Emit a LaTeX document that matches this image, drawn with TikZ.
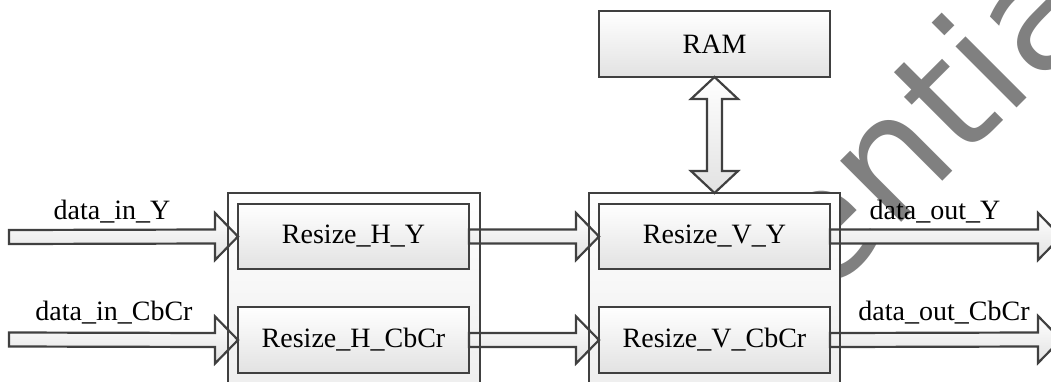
\documentclass[tikz,border=0pt]{standalone}
\usepackage{fontspec}
\setmainfont{Liberation Serif}
\newfontfamily\wmfont{DejaVu Sans}
\usetikzlibrary{calc}
\definecolor{edge}{HTML}{404040}
\definecolor{wmgray}{HTML}{808080}
\definecolor{shadelow}{HTML}{E2E2E2}
\definecolor{framelow}{HTML}{EDEDED}
\tikzset{
  labelfont/.style={font=\fontsize{28}{32}\selectfont},
  blockbox/.style={draw=edge, line width=2.5pt, top color=white, bottom color=shadelow,
    minimum width=231pt, minimum height=66pt, inner sep=0pt, outer sep=0pt, labelfont},
  framebox/.style={draw=edge, line width=2.5pt, top color=white, bottom color=framelow,
    minimum height=210pt, inner sep=0pt, outer sep=0pt},
  frameline/.style={draw=edge, line width=2.5pt, minimum height=210pt, inner sep=0pt, outer sep=0pt},
  flowarrow/.style={draw=edge, line width=2.2pt, top color=white, bottom color=shadelow, line join=miter},
  sigtext/.style={labelfont, anchor=base, inner sep=0pt},
}
% horizontal block arrow from #1 to the tip #2
\newcommand{\harrow}[2]{%
  \draw[flowarrow] ($(#1)+(0,-7)$) -- ($(#2)+(-23,-7)$) -- ($(#2)+(-23,-23.5)$) -- (#2)
    -- ($(#2)+(-23,23.5)$) -- ($(#2)+(-23,7)$) -- ($(#1)+(0,7)$) -- cycle;}
\begin{document}
\begin{tikzpicture}[x=1pt, y=-1pt]
\useasboundingbox (0,0) rectangle (1051,381);
\clip (0,0) rectangle (1051,381);
\fill[white] (0,0) rectangle (1051,381);

% watermark behind the diagram
\node[rotate=45, anchor=base west, text=wmgray, inner sep=0pt,
      font=\wmfont\fontsize{158}{158}\selectfont] (wm) at (464,660) {Confidential};

% frames of the two stages
\node[framebox, minimum width=252pt] (hframe) at (354,298) {};
\node[framebox, minimum width=251pt] (vframe) at (714.5,298) {};

% memory and the four resize blocks
\node[blockbox] (ram) at (714.5,44) {RAM};
\node[blockbox, minimum height=65pt] (hy) at (353.5,236.5) {Resize\_H\_Y};
\node[blockbox] (hc) at (353.5,340) {Resize\_H\_CbCr};
\node[blockbox, minimum height=65pt] (vy) at (714.5,236.5) {Resize\_V\_Y};
\node[blockbox] (vc) at (714.5,340) {Resize\_V\_CbCr};

% free ends of the input and output arrows
\coordinate (inY) at (9,237);
\coordinate (inC) at (9,339.5);
\coordinate (outY) at (1061,236.5);
\coordinate (outC) at (1061,339.5);

% data flow
\harrow{inY}{hy.west}
\harrow{inC}{hc.west}
\harrow{hy.east}{vy.west}
\harrow{hc.east}{vc.west}
\harrow{vy.east}{outY}
\harrow{vc.east}{outC}

% two-way link between RAM and the vertical stage
\draw[flowarrow] (ram.south) -- ($(ram.south)+(23.5,22)$) -- ($(ram.south)+(7.5,22)$)
  -- ($(vframe.north)+(7.5,-22)$) -- ($(vframe.north)+(23.5,-22)$) -- (vframe.north)
  -- ($(vframe.north)+(-23.5,-22)$) -- ($(vframe.north)+(-7.5,-22)$)
  -- ($(ram.south)+(-7.5,22)$) -- ($(ram.south)+(-23.5,22)$) -- cycle;

% frame borders on top of the arrows
\node[frameline, minimum width=252pt] at (hframe.center) {};
\node[frameline, minimum width=251pt] at (vframe.center) {};

% signal names
\node[sigtext] (lInY) at (112,219) {data\_in\_Y};
\node[sigtext] (lInC) at (114,320) {data\_in\_CbCr};
\node[sigtext] (lOutY) at (935,219) {data\_out\_Y};
\node[sigtext] (lOutC) at (944,320) {data\_out\_CbCr};
\end{tikzpicture}
\end{document}
